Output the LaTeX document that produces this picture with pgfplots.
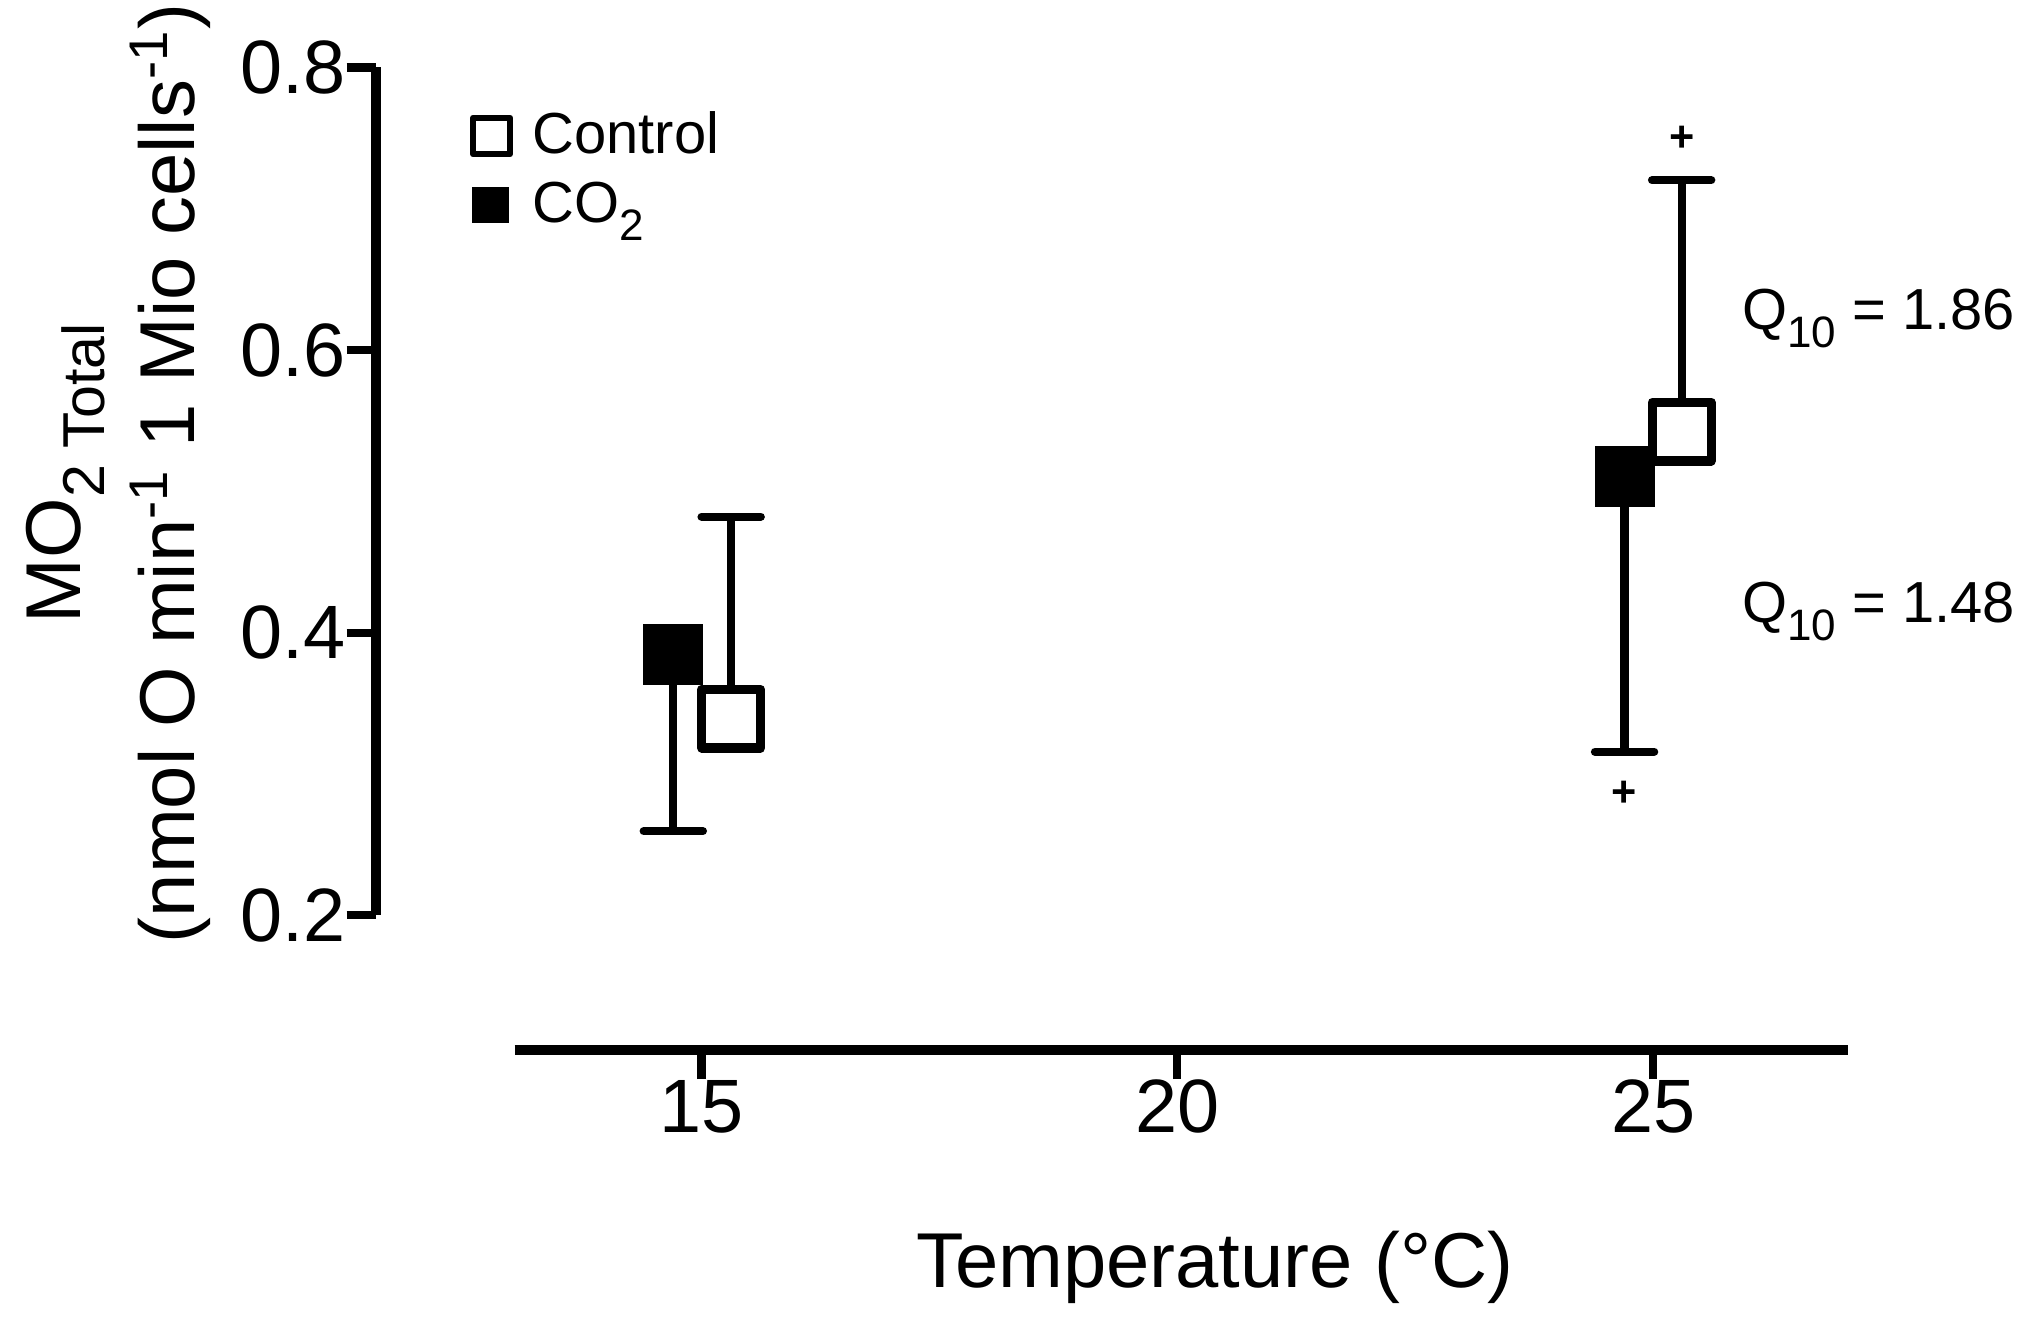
\documentclass[border=0pt]{standalone}
\usepackage{pgfplots}
\pgfplotsset{compat=1.18}
\usepackage{fontspec}
\setmainfont{Liberation Sans}
\newcommand{\sub}[1]{\raisebox{-0.31em}{\scalebox{0.76}{#1}}}
\pgfplotstableread{
x y e
14.704 0.3846 0.1250
24.700 0.5106 0.1948
}\codata
\pgfplotstableread{
x y e
15.312 0.3392 0.1429
25.300 0.5423 0.1779
}\ctrldata
\begin{document}
\begin{tikzpicture}
\path[use as bounding box] (0,0) rectangle (470.4pt,307.2pt);
% x axis
\begin{axis}[
  at={(119.1pt,64.3pt)}, anchor=south west,
  scale only axis, width=308.4pt, height=20pt,
  xmin=13.038, xmax=27.044, ymin=0, ymax=1,
  axis x line*=bottom, axis y line=none,
  axis line style={line width=2.2pt},
  xtick={15,20,25}, xticklabels={15,20,25},
  ytick=\empty,
  tick align=outside, major tick length=6.8pt,
  every tick/.style={black, line width=1.9pt},
  xticklabel style={font=\fontsize{17.5}{20}\selectfont, inner sep=0pt},
  /pgf/number format/assume math mode=true,
  clip=false,
]
\node[anchor=base, yshift=-54.9pt, font=\fontsize{18}{21}\selectfont, inner sep=0pt] at (rel axis cs:0.5253,0) {Temperature (°C)};
\end{axis}
% data + y axis
\begin{axis}[
  at={(87pt,95.4pt)}, anchor=south west,
  scale only axis, width=340.5pt, height=196.2pt,
  xmin=11.580, xmax=27.044, ymin=0.2, ymax=0.8,
  axis y line*=left, axis x line=none,
  axis line style={line width=2.3pt},
  ytick={0.2,0.4,0.6,0.8}, yticklabels={0.2,0.4,0.6,0.8},
  xtick=\empty,
  tick align=outside, major tick length=6.8pt,
  every tick/.style={black, line width=1.9pt},
  yticklabel style={font=\fontsize{17.5}{20}\selectfont, inner sep=0pt},
  /pgf/number format/assume math mode=true,
  clip=false,
  legend style={at={(rel axis cs:0.0634,0.959)}, anchor=north west, draw=none, fill=none, inner sep=0pt, font=\fontsize{13.4}{16}\selectfont, row sep=1pt},
  legend cell align=left,
]
\addlegendimage{legend image code/.code={\path[draw=none, fill=none] (-0.7pt,0pt) (11.7pt,0pt); \draw[black, line width=1.4pt, line join=round, fill=white] (0pt,-4.25pt) rectangle (8.5pt,4.25pt);}}
\addlegendentry{Control}
\addlegendimage{legend image code/.code={\path[draw=none, fill=none] (-0.7pt,0pt) (11.7pt,0pt); \fill[black] (0pt,-4pt) rectangle (8pt,4pt);}}
\addlegendentry{CO\sub{2}}
% CO2 error bars then marks
\addplot[draw=none, mark=none, forget plot,
  error bars/.cd, y dir=minus, y explicit,
  error bar style={draw=black, line width=1.9pt},
  error mark options={draw=black, rotate=90, mark size=6.85pt, line width=1.9pt, line cap=round}]
  table[x=x, y=y, y error minus=e] {\codata};
\addplot[only marks, forget plot, mark=square*, mark size=6.85pt,
  mark options={fill=black, draw=black, line width=0.2pt}]
  table[x=x, y=y] {\codata};
% Control error bars then marks
\addplot[draw=none, mark=none, forget plot,
  error bars/.cd, y dir=plus, y explicit,
  error bar style={draw=black, line width=1.9pt},
  error mark options={draw=black, rotate=90, mark size=6.85pt, line width=1.9pt, line cap=round}]
  table[x=x, y=y, y error plus=e] {\ctrldata};
\addplot[only marks, forget plot, mark=square*, mark size=6.8pt,
  mark options={fill=white, draw=black, line width=2.1pt, line join=round}]
  table[x=x, y=y] {\ctrldata};
% annotations
\node[font=\fontsize{10}{12}\selectfont\bfseries, inner sep=0pt] at (axis cs:25.30,0.7495) {+};
\node[font=\fontsize{10}{12}\selectfont\bfseries, inner sep=0pt] at (axis cs:24.70,0.2860) {+};
\node[anchor=base west, inner sep=0pt, font=\fontsize{13.4}{16}\selectfont] at (axis cs:25.926,0.6143) {Q\sub{10} = 1.86};
\node[anchor=base west, inner sep=0pt, font=\fontsize{13.4}{16}\selectfont] at (axis cs:25.926,0.4073) {Q\sub{10} = 1.48};
% y label
\node[rotate=90, anchor=base, inner sep=0pt, font=\fontsize{18}{21}\selectfont] at (rel axis cs:-0.2009,0.5214) {MO\sub{2 Total}};
\node[rotate=90, anchor=base, inner sep=0pt, font=\fontsize{18}{21}\selectfont] at (rel axis cs:-0.1230,0.5214) {(nmol O min\textsuperscript{-1} 1 Mio cells\textsuperscript{-1})};
\end{axis}
\end{tikzpicture}
\end{document}
